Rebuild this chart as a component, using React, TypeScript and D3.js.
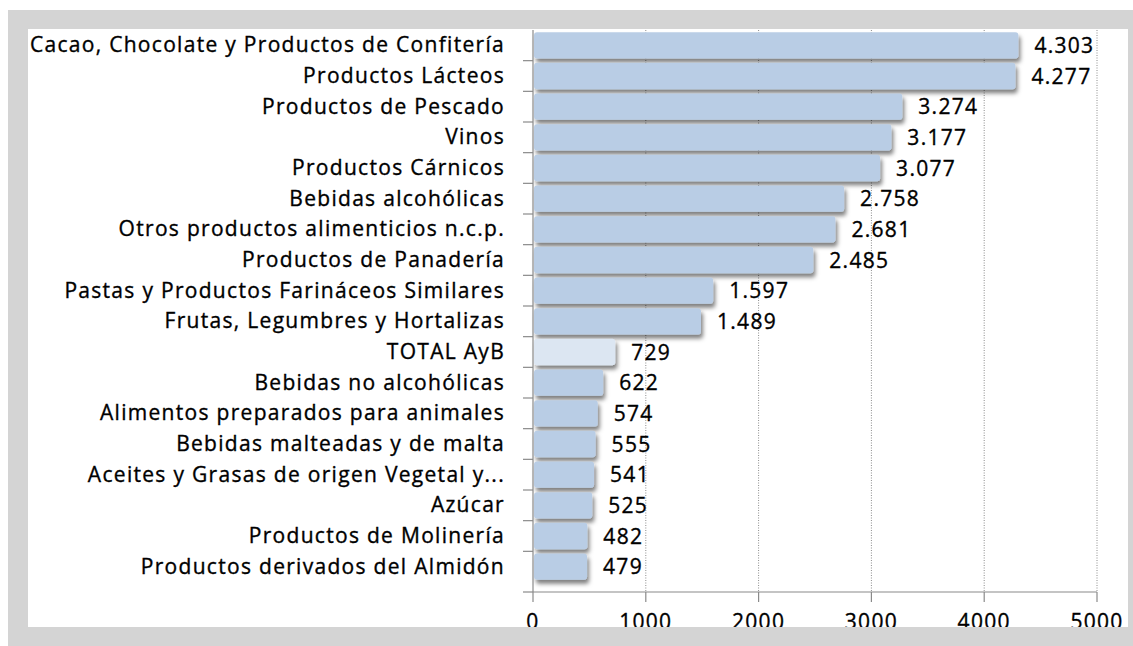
import * as d3 from 'd3';
import { useEffect, useRef } from 'react';

const categories = [
  'Cacao, Chocolate y Productos de Confitería',
  'Productos Lácteos',
  'Productos de Pescado',
  'Vinos',
  'Productos Cárnicos',
  'Bebidas alcohólicas',
  'Otros productos alimenticios n.c.p.',
  'Productos de Panadería',
  'Pastas y Productos Farináceos Similares',
  'Frutas, Legumbres y Hortalizas',
  'TOTAL AyB',
  'Bebidas no alcohólicas',
  'Alimentos preparados para animales',
  'Bebidas malteadas y de malta',
  'Aceites y Grasas de origen Vegetal y...',
  'Azúcar',
  'Productos de Molinería',
  'Productos derivados del Almidón',
];
const values = [4303, 4277, 3274, 3177, 3077, 2758, 2681, 2485, 1597, 1489, 729, 622, 574, 555, 541, 525, 482, 479];
const xTicks = [0, 1000, 2000, 3000, 4000, 5000];
const highlight = 'TOTAL AyB';

const W = 1133;
const H = 646;

function App() {
  const svgRef = useRef<SVGSVGElement>(null);

  useEffect(() => {
    const svg = d3.select(svgRef.current);
    svg.selectAll('*').remove();

    const font = '"Open Sans", Lato, sans-serif';
    const margin = { top: 30, bottom: 592, left: 533, right: 1097 };
    const fmt = d3.formatLocale({ decimal: ',', thousands: '.', grouping: [3], currency: ['', ''] }).format(',');

    const x = d3.scaleLinear().domain([0, 5000]).range([margin.left, margin.right]);
    // bars stop ~10px above the bottom axis
    const y = d3.scaleBand().domain(categories).range([margin.top, 582]).paddingInner(0.14).paddingOuter(0.07);
    const step = y.step();

    const defs = svg.append('defs');
    const f = defs.append('filter').attr('id', 'sh').attr('x', '-5%').attr('y', '-30%').attr('width', '120%').attr('height', '190%');
    f.append('feDropShadow').attr('dx', 2).attr('dy', 4).attr('stdDeviation', 2.2)
      .attr('flood-color', '#000').attr('flood-opacity', 0.5);

    svg.append('rect').attr('width', W).attr('height', H).attr('fill', '#fff');

    // dotted grid
    svg.append('g').selectAll('line').data(xTicks.slice(1)).join('line')
      .attr('x1', d => x(d)).attr('x2', d => x(d))
      .attr('y1', margin.top).attr('y2', margin.bottom)
      .attr('stroke', '#8c8c8c').attr('stroke-width', 1).attr('stroke-dasharray', '1,1.5');

    // bars
    svg.append('g').selectAll('rect').data(categories).join('rect')
      .attr('x', x(0) + 1)
      .attr('y', d => y(d)!)
      .attr('width', (d, i) => x(values[i]) - x(0) - 1)
      .attr('height', y.bandwidth())
      .attr('rx', 3)
      .attr('fill', d => d === highlight ? '#dce6f2' : '#b9cde5')
      .attr('filter', 'url(#sh)');

    const txt = (sel: any) => sel
      .attr('font-family', font).attr('font-size', 21)
      .attr('fill', '#000').attr('stroke', '#000').attr('stroke-width', 0.35);

    // value labels
    svg.append('g').selectAll('text').data(categories).join('text')
      .attr('x', (d, i) => x(values[i]) + 16)
      .attr('y', d => y(d)! + y.bandwidth() / 2)
      .attr('dy', '0.36em')
      .call(txt).attr('letter-spacing', 1.3)
      .text((d, i) => fmt(values[i]));

    // category labels
    svg.append('g').selectAll('text').data(categories).join('text')
      .attr('x', margin.left - 28)
      .attr('y', d => y(d)! + y.bandwidth() / 2)
      .attr('dy', '0.33em')
      .attr('text-anchor', 'end')
      .call(txt).attr('letter-spacing', 1.3)
      .text(d => d);

    // left axis with separators
    const ax = svg.append('g').attr('stroke', '#8a8a8a').attr('stroke-width', 1.2);
    ax.append('line').attr('x1', x(0)).attr('x2', x(0)).attr('y1', margin.top).attr('y2', margin.bottom);
    const seps = d3.range(1, categories.length).map(i => margin.top + y.paddingOuter() * step + i * step - (step - y.bandwidth()) / 2);
    ax.selectAll('.sep').data([...seps, margin.bottom]).join('line')
      .attr('x1', x(0) - 10).attr('x2', x(0)).attr('y1', d => d).attr('y2', d => d);

    // bottom axis
    ax.append('line').attr('x1', x(0)).attr('x2', x(5000)).attr('y1', margin.bottom).attr('y2', margin.bottom);
    ax.selectAll('.tk').data(xTicks).join('line')
      .attr('x1', d => x(d)).attr('x2', d => x(d)).attr('y1', margin.bottom).attr('y2', margin.bottom + 10);

    svg.append('g').selectAll('text').data(xTicks).join('text')
      .attr('x', d => x(d))
      .attr('y', 629)
      .attr('text-anchor', 'middle')
      .call(txt).attr('letter-spacing', 1.3)
      .text(d => String(d));

    // gray frame on top
    svg.append('path')
      .attr('d', `M8,10H${W}V${H}H8Z M28,29V627H1128V29Z`)
      .attr('fill', '#d4d4d4').attr('fill-rule', 'evenodd');
  }, []);

  return <svg ref={svgRef} width={W} height={H} style={{ position: 'absolute', left: 0, top: 0, display: 'block' }} />;
}

export default App;
